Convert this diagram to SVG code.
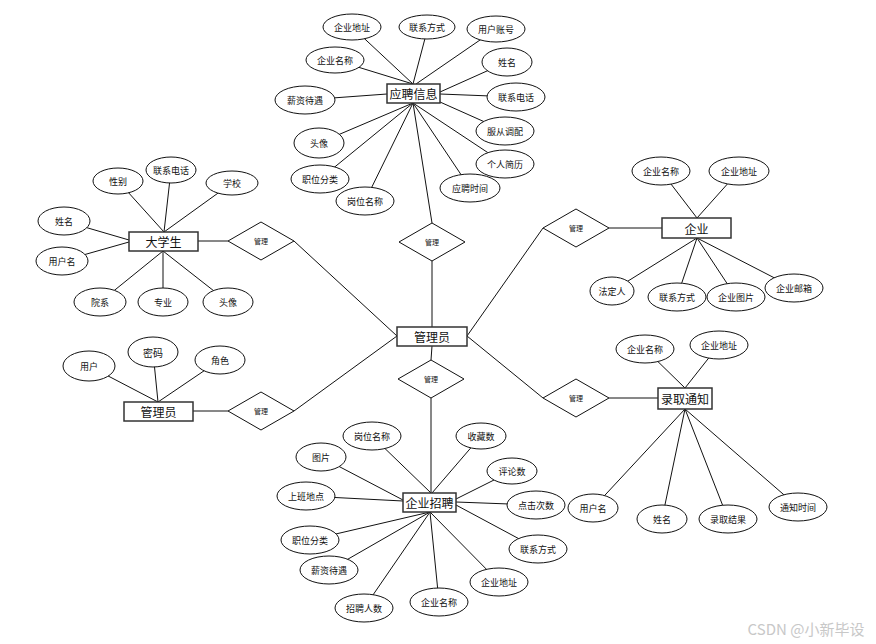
<svg xmlns="http://www.w3.org/2000/svg" width="876" height="644" viewBox="0 0 876 644">
<style>
.c line{stroke:#111;stroke-width:1}
ellipse{fill:#fff;stroke:#111;stroke-width:1}
.box{fill:#fff;stroke:#333;stroke-width:1.5}
.dia{fill:#fff;stroke:#111;stroke-width:1}
text{font-family:"Noto Sans CJK SC","Liberation Sans",sans-serif;text-anchor:middle;dominant-baseline:central;fill:#111}
.a{font-size:9px}
.e{font-size:12px}
.r{font-size:7px}
</style>
<rect width="876" height="644" fill="#fff"/>
<g class="c" id="connectors">
<!-- 应聘信息 -->
<line x1="413" y1="84" x2="352" y2="27"/>
<line x1="413" y1="84" x2="428" y2="27"/>
<line x1="416" y1="84" x2="496" y2="29"/>
<line x1="413" y1="84" x2="335" y2="60"/>
<line x1="440" y1="92" x2="507" y2="62"/>
<line x1="440" y1="94" x2="516" y2="97"/>
<line x1="387" y1="94" x2="305" y2="100"/>
<line x1="440" y1="102" x2="505" y2="131"/>
<line x1="413" y1="103" x2="319" y2="143"/>
<line x1="413" y1="103" x2="505" y2="164"/>
<line x1="413" y1="103" x2="320" y2="179"/>
<line x1="413" y1="103" x2="470" y2="188"/>
<line x1="413" y1="103" x2="365" y2="201"/>
<line x1="413" y1="103" x2="432" y2="223"/>
<line x1="432" y1="261" x2="432" y2="327"/>
<!-- 大学生 -->
<line x1="164" y1="232" x2="118" y2="181"/>
<line x1="164" y1="232" x2="171" y2="170"/>
<line x1="164" y1="232" x2="232" y2="183"/>
<line x1="129" y1="240" x2="64" y2="221"/>
<line x1="129" y1="242" x2="62" y2="261"/>
<line x1="163" y1="251" x2="100" y2="302"/>
<line x1="163" y1="251" x2="163" y2="302"/>
<line x1="163" y1="251" x2="228" y2="302"/>
<line x1="198" y1="241" x2="228" y2="241"/>
<line x1="294" y1="241" x2="397" y2="336"/>
<!-- 管理员 left -->
<line x1="158" y1="402" x2="89" y2="366"/>
<line x1="158" y1="402" x2="153" y2="352"/>
<line x1="158" y1="402" x2="220" y2="360"/>
<line x1="193" y1="411" x2="228" y2="411"/>
<line x1="294" y1="411" x2="397" y2="336"/>
<!-- 企业 -->
<line x1="697" y1="218" x2="661" y2="171"/>
<line x1="697" y1="218" x2="739" y2="171"/>
<line x1="697" y1="238" x2="612" y2="291"/>
<line x1="697" y1="238" x2="677" y2="297"/>
<line x1="697" y1="238" x2="736" y2="297"/>
<line x1="697" y1="238" x2="794" y2="288"/>
<line x1="609" y1="228" x2="662" y2="228"/>
<line x1="543" y1="228" x2="467" y2="336"/>
<!-- 录取通知 -->
<line x1="685" y1="388" x2="645" y2="349"/>
<line x1="685" y1="388" x2="719" y2="345"/>
<line x1="685" y1="409" x2="593" y2="508"/>
<line x1="685" y1="409" x2="662" y2="519"/>
<line x1="685" y1="409" x2="728" y2="519"/>
<line x1="685" y1="409" x2="798" y2="507"/>
<line x1="609" y1="398" x2="658" y2="398"/>
<line x1="543" y1="398" x2="467" y2="336"/>
<!-- 企业招聘 -->
<line x1="432" y1="346" x2="431" y2="360"/>
<line x1="431" y1="398" x2="431" y2="493"/>
<line x1="431" y1="493" x2="372" y2="436"/>
<line x1="432" y1="493" x2="481" y2="436"/>
<line x1="403" y1="500" x2="321" y2="457"/>
<line x1="403" y1="501" x2="306" y2="496"/>
<line x1="456" y1="499" x2="512" y2="471"/>
<line x1="456" y1="502" x2="536" y2="505"/>
<line x1="456" y1="505" x2="538" y2="549"/>
<line x1="430" y1="512" x2="310" y2="540"/>
<line x1="430" y1="512" x2="329" y2="570"/>
<line x1="430" y1="512" x2="364" y2="608"/>
<line x1="430" y1="512" x2="439" y2="602"/>
<line x1="430" y1="512" x2="499" y2="582"/>
</g>
<!-- 应聘信息 cluster -->
<g id="yingpin"><rect class="box" x="387" y="84" width="53" height="19"/><text class="e" x="413.5" y="93.5">应聘信息</text></g>
<g id="yp-qydz"><ellipse cx="352" cy="27" rx="29" ry="13"/><text class="a" x="352" y="27">企业地址</text></g>
<g id="yp-lxfs"><ellipse cx="427" cy="27" rx="28" ry="12"/><text class="a" x="427" y="27">联系方式</text></g>
<g id="yp-yhzh"><ellipse cx="496" cy="29" rx="29" ry="13"/><text class="a" x="496" y="29">用户账号</text></g>
<g id="yp-qymc"><ellipse cx="335" cy="60" rx="29" ry="13"/><text class="a" x="335" y="60">企业名称</text></g>
<g id="yp-xm"><ellipse cx="507" cy="62" rx="25" ry="14"/><text class="a" x="507" y="62">姓名</text></g>
<g id="yp-xzdy"><ellipse cx="305" cy="100" rx="30" ry="14"/><text class="a" x="305" y="100">薪资待遇</text></g>
<g id="yp-lxdh"><ellipse cx="516" cy="97" rx="29" ry="14"/><text class="a" x="516" y="97">联系电话</text></g>
<g id="yp-fctp"><ellipse cx="505" cy="131" rx="29" ry="14"/><text class="a" x="505" y="131">服从调配</text></g>
<g id="yp-tx"><ellipse cx="319" cy="143" rx="25" ry="15"/><text class="a" x="319" y="143">头像</text></g>
<g id="yp-grjl"><ellipse cx="505" cy="164" rx="29" ry="14"/><text class="a" x="505" y="164">个人简历</text></g>
<g id="yp-zwfl"><ellipse cx="320" cy="179" rx="29" ry="14"/><text class="a" x="320" y="179">职位分类</text></g>
<g id="yp-ypsj"><ellipse cx="470" cy="188" rx="30" ry="14"/><text class="a" x="470" y="188">应聘时间</text></g>
<g id="yp-gwmc"><ellipse cx="365" cy="201" rx="29" ry="14"/><text class="a" x="365" y="201">岗位名称</text></g>
<g id="rel-top"><polygon class="dia" points="432,223 465,242 432,261 399,242"/><text class="r" x="432" y="242">管理</text></g>
<!-- center -->
<g id="admin-center"><rect class="box" x="397" y="327" width="70" height="19"/><text class="e" x="432" y="336.5">管理员</text></g>
<!-- 大学生 cluster -->
<g id="student"><rect class="box" x="129" y="232" width="69" height="19"/><text class="e" x="163.5" y="241.5">大学生</text></g>
<g id="st-xb"><ellipse cx="118" cy="181" rx="25" ry="13"/><text class="a" x="118" y="181">性别</text></g>
<g id="st-lxdh"><ellipse cx="171" cy="170" rx="25" ry="13"/><text class="a" x="171" y="170">联系电话</text></g>
<g id="st-xx"><ellipse cx="232" cy="183" rx="26" ry="12"/><text class="a" x="232" y="183">学校</text></g>
<g id="st-xm"><ellipse cx="64" cy="221" rx="26" ry="14"/><text class="a" x="64" y="221">姓名</text></g>
<g id="st-yhm"><ellipse cx="62" cy="261" rx="26" ry="14"/><text class="a" x="62" y="261">用户名</text></g>
<g id="st-yx"><ellipse cx="100" cy="302" rx="26" ry="14"/><text class="a" x="100" y="302">院系</text></g>
<g id="st-zy"><ellipse cx="163" cy="302" rx="25" ry="14"/><text class="a" x="163" y="302">专业</text></g>
<g id="st-tx"><ellipse cx="228" cy="302" rx="25" ry="14"/><text class="a" x="228" y="302">头像</text></g>
<g id="rel-left1"><polygon class="dia" points="261,222 294,241 261,260 228,241"/><text class="r" x="261" y="241">管理</text></g>
<!-- 管理员 left -->
<g id="admin-left"><rect class="box" x="124" y="402" width="69" height="19"/><text class="e" x="158.5" y="411.5">管理员</text></g>
<g id="ad-yh"><ellipse cx="89" cy="366" rx="26" ry="15"/><text class="a" x="89" y="366">用户</text></g>
<g id="ad-mm"><ellipse cx="153" cy="352" rx="25" ry="15"/><text class="a" x="153" y="352" style="font-size:10px">密码</text></g>
<g id="ad-js"><ellipse cx="220" cy="360" rx="25" ry="14"/><text class="a" x="220" y="360">角色</text></g>
<g id="rel-left2"><polygon class="dia" points="261,392 294,411 261,430 228,411"/><text class="r" x="261" y="411">管理</text></g>
<!-- 企业 cluster -->
<g id="company"><rect class="box" x="662" y="218" width="69" height="20"/><text class="e" x="696.5" y="228">企业</text></g>
<g id="co-qymc"><ellipse cx="661" cy="171" rx="29" ry="14"/><text class="a" x="661" y="171">企业名称</text></g>
<g id="co-qydz"><ellipse cx="739" cy="171" rx="30" ry="14"/><text class="a" x="739" y="171">企业地址</text></g>
<g id="co-fdr"><ellipse cx="612" cy="291" rx="22" ry="14"/><text class="a" x="612" y="291">法定人</text></g>
<g id="co-lxfs"><ellipse cx="677" cy="297" rx="29" ry="14"/><text class="a" x="677" y="297">联系方式</text></g>
<g id="co-qytp"><ellipse cx="736" cy="297" rx="29" ry="14"/><text class="a" x="736" y="297">企业图片</text></g>
<g id="co-qyyx"><ellipse cx="794" cy="288" rx="29" ry="14"/><text class="a" x="794" y="288">企业邮箱</text></g>
<g id="rel-right1"><polygon class="dia" points="576,209 609,228 576,247 543,228"/><text class="r" x="576" y="228">管理</text></g>
<!-- 录取通知 cluster -->
<g id="notice"><rect class="box" x="658" y="388" width="54" height="21"/><text class="e" x="685" y="398.5">录取通知</text></g>
<g id="nt-qymc"><ellipse cx="645" cy="349" rx="29" ry="14"/><text class="a" x="645" y="349">企业名称</text></g>
<g id="nt-qydz"><ellipse cx="719" cy="345" rx="29" ry="14"/><text class="a" x="719" y="345">企业地址</text></g>
<g id="nt-yhm"><ellipse cx="593" cy="508" rx="25" ry="14"/><text class="a" x="593" y="508">用户名</text></g>
<g id="nt-xm"><ellipse cx="662" cy="519" rx="25" ry="14"/><text class="a" x="662" y="519">姓名</text></g>
<g id="nt-lqjg"><ellipse cx="728" cy="519" rx="29" ry="14"/><text class="a" x="728" y="519">录取结果</text></g>
<g id="nt-tzsj"><ellipse cx="798" cy="507" rx="29" ry="14"/><text class="a" x="798" y="507">通知时间</text></g>
<g id="rel-right2"><polygon class="dia" points="576,379 609,398 576,417 543,398"/><text class="r" x="576" y="398">管理</text></g>
<!-- 企业招聘 cluster -->
<g id="rel-bottom"><polygon class="dia" points="431,360 464,379 431,398 398,379"/><text class="r" x="431" y="379">管理</text></g>
<g id="recruit"><rect class="box" x="403" y="493" width="53" height="19"/><text class="e" x="429.5" y="502.5">企业招聘</text></g>
<g id="rc-gwmc"><ellipse cx="372" cy="436" rx="29" ry="14"/><text class="a" x="372" y="436">岗位名称</text></g>
<g id="rc-scs"><ellipse cx="481" cy="436" rx="25" ry="13"/><text class="a" x="481" y="436">收藏数</text></g>
<g id="rc-tp"><ellipse cx="321" cy="457" rx="25" ry="14"/><text class="a" x="321" y="457">图片</text></g>
<g id="rc-pls"><ellipse cx="512" cy="471" rx="25" ry="13"/><text class="a" x="512" y="471">评论数</text></g>
<g id="rc-sbdd"><ellipse cx="306" cy="496" rx="29" ry="14"/><text class="a" x="306" y="496">上班地点</text></g>
<g id="rc-djcs"><ellipse cx="536" cy="505" rx="29" ry="14"/><text class="a" x="536" y="505">点击次数</text></g>
<g id="rc-zwfl"><ellipse cx="310" cy="540" rx="29" ry="14"/><text class="a" x="310" y="540">职位分类</text></g>
<g id="rc-lxfs"><ellipse cx="538" cy="549" rx="29" ry="14"/><text class="a" x="538" y="549">联系方式</text></g>
<g id="rc-xzdy"><ellipse cx="329" cy="570" rx="29" ry="14"/><text class="a" x="329" y="570">薪资待遇</text></g>
<g id="rc-qydz"><ellipse cx="499" cy="582" rx="29" ry="14"/><text class="a" x="499" y="582">企业地址</text></g>
<g id="rc-qymc"><ellipse cx="439" cy="602" rx="29" ry="14"/><text class="a" x="439" y="602">企业名称</text></g>
<g id="rc-zprs"><ellipse cx="364" cy="608" rx="29" ry="14"/><text class="a" x="364" y="608">招聘人数</text></g>
<text x="806" y="628" style="font-size:15px;fill:#c8c8c8">CSDN @小新毕设</text>
</svg>
